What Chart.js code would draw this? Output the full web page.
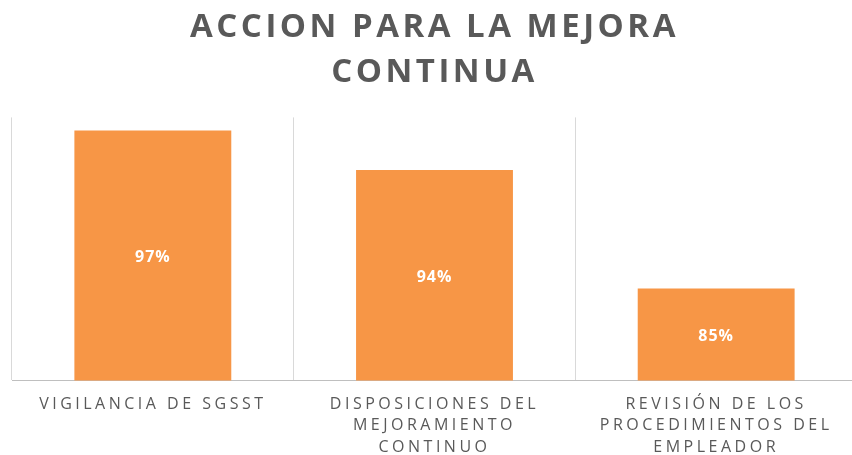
<!DOCTYPE html>
<html>
<head>
<meta charset="utf-8">
<script src="https://cdn.jsdelivr.net/npm/chart.js@4/dist/chart.umd.min.js"></script>
<style>
  html, body { margin: 0; padding: 0; background: #fff; overflow: hidden; }
  #wrap { position: relative; width: 870px; height: 471px; }
</style>
</head>
<body>
<div id="wrap"><canvas id="chart"></canvas></div>
<script>
// =========================
// DATA
// =========================
const categories = [
  ["VIGILANCIA DE SGSST"],
  ["DISPOSICIONES DEL", "MEJORAMIENTO", "CONTINUO"],
  ["REVISIÓN DE LOS", "PROCEDIMIENTOS DEL", "EMPLEADOR"],
];
const values = [97, 94, 85];
const titleLines = ["ACCION PARA LA MEJORA", "CONTINUA"];

const ORANGE = "#F79646";
const GREY_TEXT = "#595959";
const SPACING = "3.5px";

// espacement des lettres (canvas letterSpacing)
const spacingPlugin = {
  id: "spacing",
  beforeUpdate(chart) { chart.ctx.letterSpacing = SPACING; },
  beforeDraw(chart) { chart.ctx.letterSpacing = SPACING; },
};

// valeurs au centre des barres
const valueLabels = {
  id: "valueLabels",
  afterDatasetsDraw(chart) {
    const ctx = chart.ctx;
    const xs = chart.scales.x;
    const ys = chart.scales.y;
    ctx.save();
    ctx.letterSpacing = "1px";
    ctx.fillStyle = "#ffffff";
    ctx.font = "bold 16px 'Open Sans', sans-serif";
    ctx.textAlign = "center";
    ctx.textBaseline = "middle";
    values.forEach((v, i) => {
      const x = xs.getPixelForValue(i);
      const y = (ys.getPixelForValue(v) + ys.getPixelForValue(ys.min)) / 2;
      ctx.fillText(v + "%", x, y + 2);
    });
    ctx.restore();
  },
};

new Chart(document.getElementById("chart"), {
  type: "bar",
  data: {
    labels: categories,
    datasets: [{
      data: values,
      backgroundColor: ORANGE,
      barPercentage: 0.557,
      categoryPercentage: 1,
    }],
  },
  options: {
    responsive: true,
    maintainAspectRatio: false,
    animation: false,
    layout: { padding: { left: 12, right: 13, top: 0, bottom: 0 } },
    plugins: {
      legend: { display: false },
      tooltip: { enabled: false },
      title: {
        display: true,
        text: titleLines,
        color: GREY_TEXT,
        font: { family: "'Open Sans'", size: 33, weight: "bold", lineHeight: 1.37 },
        padding: { top: 5, bottom: 22 },
      },
    },
    scales: {
      x: {
        grid: { display: true, offset: true, color: "#d9d9d9", drawTicks: false },
        border: { display: true, color: "#bfbfbf", width: 1 },
        ticks: {
          color: GREY_TEXT,
          font: { family: "'Open Sans'", size: 16, lineHeight: 1.344 },
          padding: 13,
          maxRotation: 0,
          autoSkip: false,
        },
      },
      y: {
        display: false,
        min: 78,
        max: 98,
      },
    },
  },
  plugins: [spacingPlugin, valueLabels],
});
</script>
</body>
</html>
